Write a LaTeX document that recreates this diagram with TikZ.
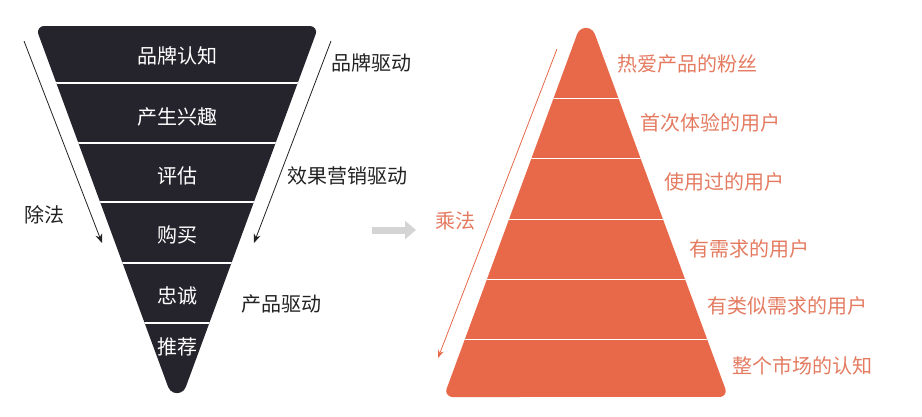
\documentclass[tikz,border=0pt]{standalone}
\usepackage{fontspec}
\newfontfamily\cjk{Noto Sans CJK SC}
\usetikzlibrary{arrows.meta}

\definecolor{funnelfill}{HTML}{25242C}
\definecolor{pyrfill}{HTML}{E8694A}
\definecolor{pyrtext}{HTML}{E47B61}
\definecolor{ink}{HTML}{222222}
\definecolor{lightgray}{HTML}{D4D4D4}

\tikzset{
  intext/.style={text=white, inner sep=0pt, font=\cjk\fontsize{20}{24}\selectfont},
  sidetext/.style={text=ink, inner sep=0pt, font=\cjk\fontsize{20}{24}\selectfont},
  pyrlabel/.style={text=pyrtext, inner sep=0pt, anchor=west, font=\cjk\fontsize{20}{24}\selectfont},
  sepline/.style={white, line width=1.6pt},
  divarrow/.style={ink, line width=0.8pt, -{Stealth[length=9pt,width=7pt]}},
  mularrow/.style={pyrfill, line width=0.8pt, -{Stealth[length=8pt,width=6pt]}}
}

\begin{document}
\begin{tikzpicture}[x=1pt,y=-1pt]
  \useasboundingbox (0,0) rectangle (922,416);

  % funnel
  \begin{scope}
    \clip (310.1,26) arc[start angle=-90, end angle=20.2, radius=6]
      -- (185.8,387) arc[start angle=20.2, end angle=159.8, radius=9.4]
      -- (38.3,34.07) arc[start angle=159.8, end angle=270, radius=6] -- cycle;
    \fill[funnelfill] (0,0) rectangle (400,416);
    \draw[sepline] (0,83) -- (400,83);
    \draw[sepline] (0,143) -- (400,143);
    \draw[sepline] (0,202) -- (400,202);
    \draw[sepline] (0,263) -- (400,263);
    \draw[sepline] (0,323) -- (400,323);
  \end{scope}
  \node[intext] (renzhi) at (177,56) {品牌认知};
  \node[intext] (xingqu) at (177,117) {产生兴趣};
  \node[intext] (pinggu) at (177,176) {评估};
  \node[intext] (goumai) at (177,235) {购买};
  \node[intext] (zhongcheng) at (177,296) {忠诚};
  \node[intext] (tuijian) at (177,347) {推荐};

  % side labels and arrows
  \node[sidetext] (pinpai) at (371,63) {品牌驱动};
  \node[sidetext] (xiaoguo) at (347,176) {效果营销驱动};
  \node[sidetext] (chanpin) at (281,304) {产品驱动};
  \node[sidetext] (chufa) at (44,215) {除法};
  \coordinate (chuL1) at (24,41);
  \coordinate (chuL2) at (102,243);
  \coordinate (chuR1) at (331,41);
  \coordinate (chuR2) at (254,243);
  \draw[divarrow] (chuL1) -- (chuL2);
  \draw[divarrow] (chuR1) -- (chuR2);

  % middle arrow
  \coordinate (mid1) at (372,230);
  \coordinate (mid2) at (416,230);
  \draw[lightgray, line width=7pt, -{Triangle[length=11pt,width=18pt]}] (mid1) -- (mid2);

  % pyramid
  \begin{scope}
    \clip (577.2,34) arc[start angle=200.2, end angle=339.8, radius=9.4]
      -- (725.4,388.9) arc[start angle=-20.2, end angle=90, radius=6]
      -- (452.2,397) arc[start angle=90, end angle=200.2, radius=6] -- cycle;
    \fill[pyrfill] (420,0) rectangle (760,416);
    \draw[sepline] (420,98.3) -- (760,98.3);
    \draw[sepline] (420,158.3) -- (760,158.3);
    \draw[sepline] (420,219.3) -- (760,219.3);
    \draw[sepline] (420,279.3) -- (760,279.3);
    \draw[sepline] (420,339.3) -- (760,339.3);
  \end{scope}
  \node[pyrlabel] (fensi) at (617,64.3) {热爱产品的粉丝};
  \node[pyrlabel] (shouci) at (640.5,123.3) {首次体验的用户};
  \node[pyrlabel] (shiyong) at (664,181.7) {使用过的用户};
  \node[pyrlabel] (xuqiu) at (689,248.7) {有需求的用户};
  \node[pyrlabel] (leisi) at (707,306) {有类似需求的用户};
  \node[pyrlabel] (shichang) at (732,366) {整个市场的认知};

  \node[pyrlabel, anchor=center] (chengfa) at (455,221) {乘法};
  \coordinate (cheng1) at (557,49);
  \coordinate (cheng2) at (438,358);
  \draw[mularrow] (cheng1) -- (cheng2);
\end{tikzpicture}
\end{document}
